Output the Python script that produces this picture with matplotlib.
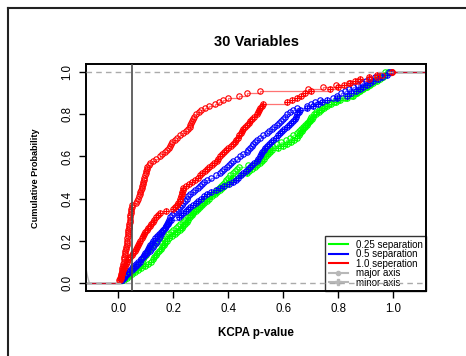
import matplotlib
matplotlib.use("Agg")
import matplotlib.pyplot as plt
import numpy as np
from matplotlib.lines import Line2D

plt.rcParams["font.family"] = ["Liberation Sans", "DejaVu Sans"]

# KCPA p-values (100 runs per setting)
red_major = [
    0.004, 0.006, 0.008, 0.010, 0.012, 0.013, 0.015, 0.016, 0.018, 0.020,
    0.021, 0.022, 0.024, 0.025, 0.026, 0.027, 0.028, 0.030, 0.031, 0.032,
    0.033, 0.034, 0.035, 0.036, 0.037, 0.038, 0.039, 0.040, 0.041, 0.042,
    0.043, 0.044, 0.045, 0.0455, 0.046, 0.048, 0.050, 0.064, 0.068, 0.072,
    0.075, 0.078, 0.080, 0.083, 0.085, 0.087, 0.089, 0.091, 0.093, 0.095,
    0.097, 0.099, 0.101, 0.103, 0.105, 0.110, 0.115, 0.125, 0.138, 0.150,
    0.160, 0.170, 0.178, 0.185, 0.189, 0.192, 0.195, 0.205, 0.215, 0.224,
    0.234, 0.245, 0.255, 0.259, 0.262, 0.265, 0.268, 0.272, 0.275, 0.283,
    0.292, 0.300, 0.315, 0.330, 0.352, 0.366, 0.380, 0.400, 0.440, 0.467,
    0.515, 0.690, 0.745, 0.790, 0.840, 0.870, 0.910, 0.940, 0.960, 0.995,
]
red_minor = [
    0.005, 0.008, 0.010, 0.013, 0.015, 0.018, 0.021, 0.024, 0.027, 0.030,
    0.036, 0.042, 0.048, 0.055, 0.059, 0.063, 0.067, 0.071, 0.076, 0.080,
    0.085, 0.089, 0.094, 0.098, 0.103, 0.108, 0.114, 0.119, 0.125, 0.130,
    0.137, 0.144, 0.150, 0.175, 0.200, 0.206, 0.212, 0.218, 0.224, 0.226,
    0.228, 0.230, 0.232, 0.234, 0.236, 0.247, 0.258, 0.268, 0.279, 0.290,
    0.298, 0.306, 0.314, 0.322, 0.330, 0.339, 0.349, 0.358, 0.364, 0.371,
    0.377, 0.384, 0.390, 0.399, 0.409, 0.418, 0.424, 0.429, 0.435, 0.440,
    0.445, 0.450, 0.455, 0.461, 0.467, 0.474, 0.480, 0.488, 0.495, 0.503,
    0.507, 0.511, 0.515, 0.521, 0.527, 0.612, 0.630, 0.649, 0.665, 0.680,
    0.700, 0.770, 0.800, 0.822, 0.843, 0.862, 0.880, 0.910, 0.940, 0.995,
]
blue_major = [
    0.012, 0.018, 0.024, 0.030, 0.035, 0.042, 0.048, 0.055, 0.064, 0.072,
    0.081, 0.089, 0.098, 0.106, 0.115, 0.120, 0.125, 0.131, 0.136, 0.141,
    0.147, 0.152, 0.156, 0.160, 0.164, 0.168, 0.172, 0.176, 0.180, 0.184,
    0.188, 0.195, 0.203, 0.210, 0.217, 0.224, 0.230, 0.236, 0.243, 0.249,
    0.255, 0.261, 0.270, 0.279, 0.288, 0.297, 0.305, 0.313, 0.321, 0.337,
    0.354, 0.370, 0.378, 0.386, 0.394, 0.402, 0.410, 0.418, 0.430, 0.443,
    0.455, 0.467, 0.473, 0.479, 0.485, 0.491, 0.497, 0.503, 0.515, 0.528,
    0.540, 0.549, 0.558, 0.567, 0.576, 0.583, 0.591, 0.598, 0.605, 0.612,
    0.624, 0.637, 0.649, 0.685, 0.701, 0.717, 0.733, 0.782, 0.797, 0.811,
    0.826, 0.840, 0.855, 0.870, 0.885, 0.900, 0.917, 0.933, 0.950, 0.985,
]
blue_minor = [
    0.012, 0.019, 0.026, 0.033, 0.040, 0.048, 0.056, 0.064, 0.071, 0.079,
    0.084, 0.089, 0.093, 0.098, 0.103, 0.108, 0.113, 0.117, 0.122, 0.127,
    0.134, 0.142, 0.149, 0.157, 0.164, 0.169, 0.174, 0.179, 0.185, 0.190,
    0.220, 0.228, 0.236, 0.245, 0.253, 0.261, 0.271, 0.281, 0.291, 0.301,
    0.311, 0.321, 0.337, 0.354, 0.370, 0.386, 0.402, 0.418, 0.427, 0.437,
    0.446, 0.455, 0.463, 0.471, 0.479, 0.487, 0.495, 0.503, 0.508, 0.514,
    0.519, 0.524, 0.530, 0.535, 0.540, 0.548, 0.556, 0.564, 0.572, 0.580,
    0.588, 0.596, 0.604, 0.612, 0.620, 0.628, 0.636, 0.641, 0.646, 0.651,
    0.656, 0.661, 0.685, 0.709, 0.725, 0.742, 0.758, 0.794, 0.830, 0.846,
    0.863, 0.879, 0.891, 0.903, 0.915, 0.927, 0.943, 0.960, 0.976, 0.990,
]
green_major = [
    0.015, 0.024, 0.033, 0.041, 0.050, 0.060, 0.069, 0.079, 0.083, 0.087,
    0.091, 0.095, 0.099, 0.103, 0.107, 0.111, 0.115, 0.127, 0.138, 0.150,
    0.160, 0.170, 0.180, 0.190, 0.200, 0.209, 0.218, 0.226, 0.235, 0.244,
    0.253, 0.261, 0.270, 0.277, 0.283, 0.290, 0.297, 0.303, 0.310, 0.320,
    0.330, 0.340, 0.350, 0.360, 0.367, 0.373, 0.380, 0.387, 0.393, 0.400,
    0.408, 0.416, 0.424, 0.432, 0.440, 0.470, 0.500, 0.508, 0.515, 0.523,
    0.530, 0.538, 0.545, 0.553, 0.560, 0.577, 0.593, 0.610, 0.623, 0.637,
    0.650, 0.657, 0.664, 0.671, 0.679, 0.686, 0.693, 0.696, 0.700, 0.710,
    0.720, 0.730, 0.740, 0.750, 0.767, 0.783, 0.800, 0.825, 0.850, 0.863,
    0.875, 0.888, 0.900, 0.910, 0.920, 0.930, 0.940, 0.950, 0.960, 0.970,
]
green_minor = [
    0.020, 0.030, 0.040, 0.050, 0.060, 0.072, 0.084, 0.096, 0.108, 0.120,
    0.126, 0.131, 0.137, 0.142, 0.148, 0.154, 0.159, 0.165, 0.170, 0.176,
    0.186, 0.195, 0.205, 0.214, 0.224, 0.230, 0.236, 0.242, 0.248, 0.255,
    0.261, 0.267, 0.273, 0.281, 0.289, 0.297, 0.305, 0.313, 0.321, 0.331,
    0.341, 0.350, 0.360, 0.370, 0.378, 0.386, 0.394, 0.402, 0.410, 0.418,
    0.442, 0.467, 0.477, 0.486, 0.496, 0.505, 0.515, 0.522, 0.530, 0.537,
    0.545, 0.552, 0.560, 0.580, 0.600, 0.613, 0.627, 0.640, 0.650, 0.656,
    0.661, 0.667, 0.673, 0.679, 0.685, 0.691, 0.697, 0.703, 0.709, 0.719,
    0.729, 0.738, 0.748, 0.758, 0.774, 0.790, 0.806, 0.830, 0.855, 0.867,
    0.879, 0.891, 0.903, 0.915, 0.927, 0.940, 0.952, 0.962, 0.971, 0.980,
]

# small grey trace at the far left edge
grey_x = [-0.118, -0.112, -0.106]
grey_y = [0.07, 0.03, 0.0]

x_ticks = [0.0, 0.2, 0.4, 0.6, 0.8, 1.0]
y_ticks = [0.0, 0.2, 0.4, 0.6, 0.8, 1.0]
cutoff = 0.05

legend_labels = ["0.25 separation", "0.5 separation", "1.0 seperation",
                 "major axis", "minor axis"]

XLIM = (-0.1175, 1.119)
YLIM = (-0.04, 1.04)
GREEN, BLUE, RED = "#00ff00", "#0000ff", "#ff0000"
GREY = "#b8b8b8"


def draw_ecdf(ax, vals, color, minor):
    """R plot.ecdf style: horizontal steps with a marker at every jump."""
    v = np.sort(np.asarray(vals, dtype=float))
    f = np.searchsorted(v, v, side="right") / len(v)
    xs = np.concatenate([[XLIM[0]], v, [XLIM[1]]])
    ys = np.concatenate([[0.0], f, [1.0]])
    ax.step(xs, ys, where="post", color=color, lw=0.9, alpha=0.55, zorder=2)
    ax.plot(v, f, ls="none", marker="o", ms=3.9, mfc="none", mec=color,
            mew=0.8, zorder=3)
    if minor:
        ax.plot(v, f, ls="none", marker="+", ms=3.9, mec=color, mew=0.8,
                zorder=3)


fig = plt.figure(figsize=(4.66, 3.56), dpi=100)
ax = fig.add_axes([86 / 466, 1 - 291 / 356, 340 / 466, 227 / 356])

for vals, col, minor in [(green_major, GREEN, False), (green_minor, GREEN, True),
                         (blue_major, BLUE, False), (blue_minor, BLUE, True),
                         (red_major, RED, False), (red_minor, RED, True)]:
    draw_ecdf(ax, vals, col, minor)

ax.plot(grey_x, grey_y, color=GREY, lw=1.0, zorder=2)
ax.axhline(0, color="#aaaaaa", ls=(0, (4, 3)), lw=1.0, zorder=4)
ax.axhline(1, color="#aaaaaa", ls=(0, (4, 3)), lw=1.0, zorder=4)
ax.axvline(cutoff, color="#4a4a4a", lw=1.2, zorder=5)

ax.set_xlim(*XLIM)
ax.set_ylim(*YLIM)
ax.set_xticks(x_ticks)
ax.set_xticklabels([f"{t:.1f}" for t in x_ticks], fontsize=8.3)
ax.set_yticks(y_ticks)
ax.set_yticklabels([f"{t:.1f}" for t in y_ticks], fontsize=8.3,
                   rotation=90, va="center")
ax.tick_params(direction="out", length=5, width=1.0, pad=4)
for s in ax.spines.values():
    s.set_linewidth(1.4)

fig.text(256 / 466, 1 - 42 / 356, "30 Variables", ha="center", va="center",
         fontsize=10.5, fontweight="bold")
fig.text(256 / 466, 1 - 333 / 356, "KCPA p-value", ha="center", va="center",
         fontsize=8.4, fontweight="bold")
fig.text(36 / 466, 1 - 178 / 356, "Cumulative Probability", ha="center",
         va="center", rotation=90, fontsize=6.6, fontweight="bold")

handles = [
    Line2D([], [], color=GREEN, lw=1.5),
    Line2D([], [], color=BLUE, lw=1.5),
    Line2D([], [], color=RED, lw=1.5),
    Line2D([], [], color=GREY, lw=1.5, marker="o", ms=3, mfc=GREY, mec=GREY),
    Line2D([], [], color=GREY, lw=1.5, marker="P", ms=5, mfc=GREY, mec=GREY),
]
leg = ax.legend(handles, legend_labels, loc="lower right", fontsize=7,
                borderaxespad=0, fancybox=False, edgecolor="black",
                facecolor="none", labelspacing=-0.05, handlelength=2.0,
                handletextpad=0.8, borderpad=0.35)
leg.get_frame().set_linewidth(1.0)
leg.set_zorder(3.5)

# outer page frame (top and left edges visible)
fig.add_artist(Line2D([8 / 466, 1.0], [1 - 8 / 356, 1 - 8 / 356],
                      color="#222222", lw=1.5))
fig.add_artist(Line2D([8 / 466, 8 / 466], [0.0, 1 - 8 / 356],
                      color="#222222", lw=1.5))

fig.savefig("out.png", dpi=100)
